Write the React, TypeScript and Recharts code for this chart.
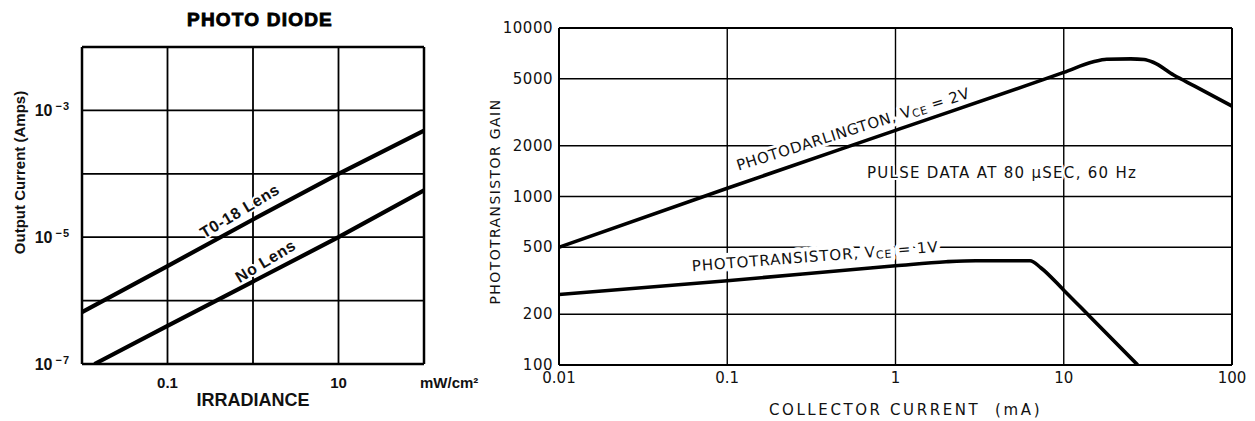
import React from 'react';
import { LineChart, Line, XAxis, YAxis, CartesianGrid, ReferenceDot, ReferenceLine } from 'recharts';

// ---------- PHOTO DIODE (left) ----------
const diodeLensIrradiance = [0.01, 0.1, 1, 10, 100];
const diodeLensCurrent = [6.6e-7, 3.5e-6, 1.9e-5, 1.0e-4, 4.8e-4];
const diodeNoLensIrradiance = [0.014, 0.1, 1, 10, 100];
const diodeNoLensCurrent = [1.0e-7, 4.0e-7, 2.0e-6, 1.0e-5, 5.5e-5];
const diodeXTicks = [0.01, 0.1, 1, 10, 100];
const diodeXTickLabels = ['', '0.1', '', '10', 'mW/cm²'];
const diodeYTicks = [1e-7, 1e-6, 1e-5, 1e-4, 1e-3, 1e-2];
const diodeYTickExponents = ['−7', '', '−5', '', '−3', ''];

// ---------- PHOTOTRANSISTOR GAIN (right) ----------
const darlingtonCurrent = [0.01, 0.1, 1, 10, 15, 18, 25, 30, 34, 45, 60, 100];
const darlingtonGain = [500, 1120, 2470, 5450, 6300, 6520, 6560, 6500, 6260, 5260, 4520, 3440];
const transistorCurrent = [0.01, 0.1, 1, 2, 3, 6.3, 7.3, 10, 14, 27.5];
const transistorGain = [262, 316, 388, 410, 416, 416, 378, 278, 198, 100];
const gainXTicks = [0.01, 0.1, 1, 10, 100];
const gainXTickLabels = ['0.01', '0.1', '1', '10', '100'];
const gainYTicks = [100, 200, 500, 1000, 2000, 5000, 10000];
const gainYTickLabels = ['100', '200', '500', '1000', '2000', '5000', '10000'];

const zip = (xs: number[], ys: number[]) => xs.map((x, i) => ({ x, y: ys[i] }));
const lensData = zip(diodeLensIrradiance, diodeLensCurrent);
const noLensData = zip(diodeNoLensIrradiance, diodeNoLensCurrent);
const darlingtonData = zip(darlingtonCurrent, darlingtonGain);
const transistorData = zip(transistorCurrent, transistorGain);

const findIdx = (ticks: number[], v: number) =>
  ticks.findIndex((t) => Math.abs(Math.log10(t) - Math.log10(v)) < 1e-6);

const HELV = '"Liberation Sans", Arial, Helvetica, sans-serif';
const DEJA = '"DejaVu Sans", "Liberation Sans", sans-serif';
const INK = '#111';

const DiodeXTick = (props: any) => {
  const { x, y, payload } = props;
  const i = findIdx(diodeXTicks, payload.value);
  const label = i >= 0 ? diodeXTickLabels[i] : '';
  if (!label) return <g />;
  const isUnit = i === diodeXTicks.length - 1;
  return (
    <text x={isUnit ? x - 4 : x} y={y + 24} textAnchor={isUnit ? 'start' : 'middle'} fontFamily={HELV}
      fontWeight="bold" fontSize={15} fill={INK}>
      {label}
    </text>
  );
};

const DiodeYTick = (props: any) => {
  const { x, y, payload } = props;
  const i = findIdx(diodeYTicks, payload.value);
  const exp = i >= 0 ? diodeYTickExponents[i] : '';
  if (!exp) return <g />;
  return (
    <text x={x} y={y + 6} textAnchor="end" fontFamily={HELV} fontWeight="bold" fontSize={16} fill={INK}>
      <tspan>10</tspan>
      <tspan dx={3} dy={-6} fontSize={11} letterSpacing={1}>{exp}</tspan>
    </text>
  );
};

const GainXTick = (props: any) => {
  const { x, y, payload } = props;
  const i = findIdx(gainXTicks, payload.value);
  return (
    <text x={x} y={y + 18} textAnchor="middle" fontFamily={DEJA} fontSize={15} fill={INK}>
      {i >= 0 ? gainXTickLabels[i] : ''}
    </text>
  );
};

const GainYTick = (props: any) => {
  const { x, y, payload } = props;
  const i = findIdx(gainYTicks, payload.value);
  return (
    <text x={x} y={y} textAnchor="end" dominantBaseline="central" fontFamily={DEJA} fontSize={15}
      letterSpacing={0.5} fill={INK}>
      {i >= 0 ? gainYTickLabels[i] : ''}
    </text>
  );
};

const center = (p: any) => {
  const vb = p.viewBox || {};
  return { cx: (vb.x ?? 0) + (vb.width ?? 0) / 2, cy: (vb.y ?? 0) + (vb.height ?? 0) / 2 };
};

const annot = (content: React.ReactNode, angle: number, font: string, size: number, weight: string,
  spacing: number, halo = 4) =>
  (p: any) => {
    const { cx, cy } = center(p);
    return (
      <text x={cx} y={cy} transform={`rotate(${angle} ${cx} ${cy})`} textAnchor="middle" dominantBaseline="central"
        fontFamily={font} fontSize={size} fontWeight={weight} letterSpacing={spacing} fill={INK}
        stroke="#fff" strokeWidth={halo} strokeLinejoin="round" paintOrder="stroke">
        {content}
      </text>
    );
  };

export default function App() {
  return (
    <div style={{ position: 'absolute', left: 0, top: 0, width: 1255, height: 421, background: '#fff', overflow: 'hidden' }}>
      {/* Left chart */}
      <div style={{ position: 'absolute', left: 0, top: 0 }}>
        <LineChart width={500} height={421} margin={{ top: 47, right: 76, bottom: 17, left: 12 }}>
          <CartesianGrid stroke="#000" strokeWidth={1.8} />
          <XAxis dataKey="x" type="number" scale="log" domain={[0.01, 100]} ticks={diodeXTicks} allowDataOverflow
            interval={0} tick={<DiodeXTick />} tickLine={false} tickSize={0} tickMargin={0} height={40}
            axisLine={{ stroke: '#000', strokeWidth: 2.5 }}
            label={{
              content: (p: any) => {
                const vb = p.viewBox || {};
                return (
                  <text x={vb.x + vb.width / 2} y={vb.y + 42} textAnchor="middle" fontFamily={HELV}
                    fontWeight="bold" fontSize={18} fill={INK}>IRRADIANCE</text>
                );
              },
            }} />
          <YAxis type="number" scale="log" domain={[1e-7, 1e-2]} ticks={diodeYTicks} allowDataOverflow
            interval={0} tick={<DiodeYTick />} tickLine={false} tickSize={0} tickMargin={12} width={70}
            axisLine={{ stroke: '#000', strokeWidth: 2.5 }}
            label={{
              content: (p: any) => {
                const vb = p.viewBox || {};
                const cx = vb.x + 7;
                const cy = vb.y + vb.height / 2 - 33;
                return (
                  <text x={cx} y={cy} transform={`rotate(-90 ${cx} ${cy})`} textAnchor="middle"
                    dominantBaseline="central" fontFamily={HELV} fontWeight="bold" fontSize={15} fill={INK}>
                    Output Current (Amps)
                  </text>
                );
              },
            }} />
          <ReferenceLine y={1e-2} stroke="#000" strokeWidth={2.5} ifOverflow="visible" />
          <ReferenceLine x={100} stroke="#000" strokeWidth={2.5} ifOverflow="visible" />
          <Line data={lensData} dataKey="y" type="linear" stroke="#000" strokeWidth={4.2} dot={false}
            isAnimationActive={false} />
          <Line data={noLensData} dataKey="y" type="linear" stroke="#000" strokeWidth={4.2} dot={false}
            isAnimationActive={false} />
          <ReferenceDot x={0.7} y={2.6e-5} r={0} fill="none" stroke="none"
            label={{ content: annot('T0-18 Lens', -31, HELV, 16, 'bold', 0.6) }} />
          <ReferenceDot x={1.4} y={4.2e-6} r={0} fill="none" stroke="none"
            label={{ content: annot('No Lens', -31, HELV, 16, 'bold', 0.6) }} />
        </LineChart>
      </div>
      <svg style={{ position: 'absolute', left: 0, top: 0 }} width={440} height={40}>
        <text x={260} y={26} textAnchor="middle" fontFamily={HELV} fontWeight={900} fontSize={19}
          letterSpacing={1.2} fill="#000" stroke="#000" strokeWidth={0.9}>PHOTO DIODE</text>
      </svg>

      {/* Right chart */}
      <div style={{ position: 'absolute', left: 440, top: 0 }}>
        <LineChart width={815} height={421} margin={{ top: 28, right: 23, bottom: 16, left: 39 }}>
          <CartesianGrid stroke="#000" strokeWidth={1.4} />
          <XAxis dataKey="x" type="number" scale="log" domain={[0.01, 100]} ticks={gainXTicks} allowDataOverflow
            interval={0} tick={<GainXTick />} tickLine={false} tickSize={0} tickMargin={0} height={40}
            axisLine={{ stroke: '#000', strokeWidth: 2 }}
            label={{
              content: (p: any) => {
                const vb = p.viewBox || {};
                return (
                  <text x={vb.x + vb.width / 2 + 10} y={vb.y + 50} textAnchor="middle" fontFamily={DEJA}
                    fontSize={15} letterSpacing={2.6} fill={INK} style={{ whiteSpace: 'pre' }}>
                    {'COLLECTOR CURRENT  (mA)'}
                  </text>
                );
              },
            }} />
          <YAxis type="number" scale="log" domain={[100, 10000]} ticks={gainYTicks} allowDataOverflow
            interval={0} tick={<GainYTick />} tickLine={false} tickSize={0} tickMargin={6} width={80}
            axisLine={{ stroke: '#000', strokeWidth: 2 }}
            label={{
              content: (p: any) => {
                const vb = p.viewBox || {};
                const cx = vb.x + 16;
                const cy = vb.y + vb.height / 2 + 5;
                return (
                  <text x={cx} y={cy} transform={`rotate(-90 ${cx} ${cy})`} textAnchor="middle"
                    dominantBaseline="central" fontFamily={DEJA} fontSize={14} letterSpacing={1.4} fill={INK}>
                    PHOTOTRANSISTOR GAIN
                  </text>
                );
              },
            }} />
          <ReferenceLine y={10000} stroke="#000" strokeWidth={2} ifOverflow="visible" />
          <ReferenceLine x={100} stroke="#000" strokeWidth={2} ifOverflow="visible" />
          <Line data={darlingtonData} dataKey="y" type="monotone" stroke="#000" strokeWidth={3.6} dot={false}
            isAnimationActive={false} />
          <Line data={transistorData} dataKey="y" type="monotone" stroke="#000" strokeWidth={3.6} dot={false}
            isAnimationActive={false} />
          <ReferenceDot x={0.56} y={2500} r={0} fill="none" stroke="none"
            label={{
              content: annot(
                <>
                  PHOTODARLINGTON, V<tspan fontSize={11} dy={3}>CE</tspan><tspan dy={-3}> = 2V</tspan>
                </>, -17.5, DEJA, 15, 'normal', 0.6, 6),
            }} />
          <ReferenceDot x={0.333} y={440} r={0} fill="none" stroke="none"
            label={{
              content: annot(
                <>
                  PHOTOTRANSISTOR, V<tspan fontSize={11} dy={3}>CE</tspan><tspan dy={-3}> = 1V</tspan>
                </>, -4.5, DEJA, 15, 'normal', 0.9, 9),
            }} />
          <ReferenceDot x={4.3} y={1380} r={0} fill="none" stroke="none"
            label={{ content: annot('PULSE DATA AT 80 µSEC, 60 Hz', 0, DEJA, 15, 'normal', 1.3) }} />
        </LineChart>
      </div>
    </div>
  );
}
